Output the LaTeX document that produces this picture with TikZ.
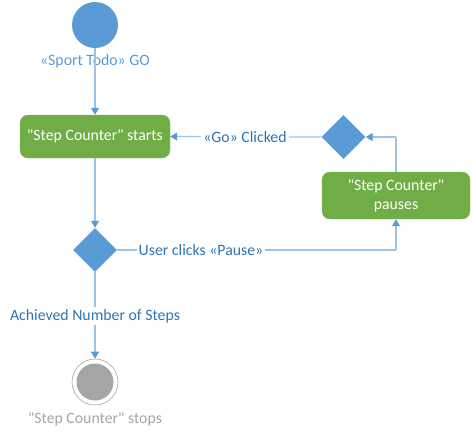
\documentclass[tikz,border=0pt]{standalone}
\usepackage{fontspec}
\setmainfont{Carlito}[Ligatures=TeXOff]
\usetikzlibrary{shapes.geometric,arrows.meta}
\definecolor{nodeblue}{HTML}{5B9BD5}
\definecolor{linkblue}{HTML}{9DC3E6}
\definecolor{labblue}{HTML}{2E75B6}
\definecolor{actgreen}{HTML}{70AD47}
\definecolor{endgray}{HTML}{A5A5A5}
\begin{document}
\begin{tikzpicture}[x=1pt,y=-1pt,
  every node/.style={font=\fontsize{15.8}{18}\selectfont},
  action/.style={draw=actgreen!85!white,fill=actgreen,rounded corners=8pt,text=white,align=center,inner sep=0pt},
  decision/.style={diamond,fill=nodeblue,minimum width=44pt,minimum height=44pt,inner sep=0pt},
  flow/.style={draw=linkblue,line width=1.2pt,-{Triangle[length=7pt,width=8pt,color=nodeblue]}},
  plain/.style={draw=linkblue,line width=1.2pt},
  lab/.style={text=labblue,fill=white,inner sep=2pt}]
\useasboundingbox (0,0) rectangle (473,437);
\node[circle,fill=nodeblue,minimum size=46pt,inner sep=0pt] (start) at (95,25) {};
\node[text=nodeblue] (startlab) at (95,61) {«Sport Todo» GO};
\node[action,minimum width=150pt,minimum height=43pt] (starts) at (95,136.5) {"Step Counter" starts};
\node[decision] (d1) at (95,250) {};
\node[action,minimum width=148pt,minimum height=47pt] (pauses) at (396,195.5) {"Step Counter"\\[1pt]pauses};
\node[decision] (d2) at (343.5,137) {};
\node[circle,draw=endgray,line width=0.6pt,minimum size=46pt,inner sep=0pt] (endo) at (95,382) {};
\node[circle,fill=endgray,minimum size=37pt,inner sep=0pt] (endi) at (95,382) {};
\node[text=endgray] (endlab) at (95,419) {"Step Counter" stops};
\coordinate (c1) at (396,250);
\coordinate (c2) at (396,137);
\draw[flow] (start) -- (starts);
\draw[flow] (starts) -- (d1);
\draw[plain] (d1.east) -- (c1);
\draw[flow] (c1) -- (pauses.south);
\draw[plain] (pauses.north) -- (c2);
\draw[flow] (c2) -- (d2.east);
\draw[flow] (d2.west) -- (starts.east);
\draw[flow] (d1.south) -- (endo.north);
\node[lab] at (201,250) {User clicks «Pause»};
\node[lab] at (245,137) {«Go» Clicked};
\node[lab] at (95,316) {Achieved Number of Steps};
\end{tikzpicture}
\end{document}
